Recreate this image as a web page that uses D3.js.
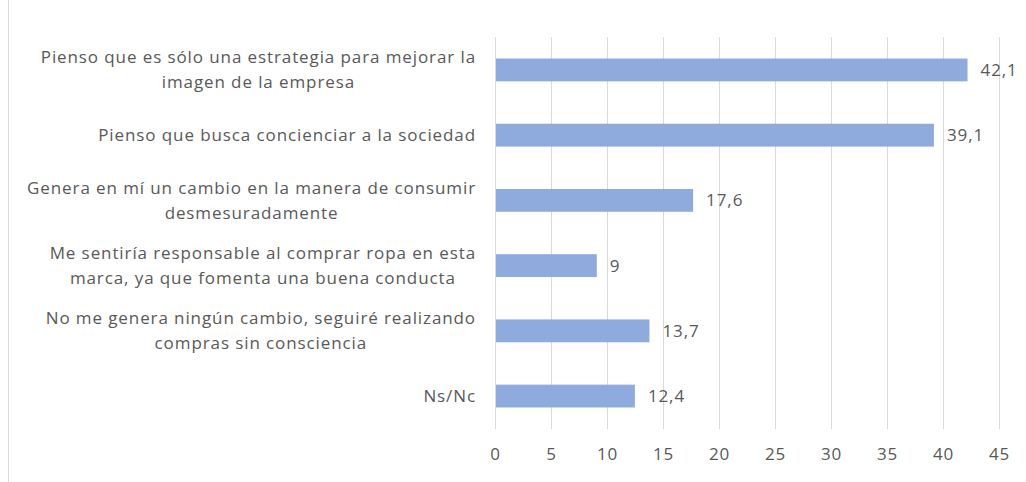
<!DOCTYPE html>
<html>
<head>
<meta charset="utf-8">
<script src="https://cdn.jsdelivr.net/npm/d3@7"></script>
<style>
  body { margin: 0; background: #fff; }
  svg { display: block; font-family: "Open Sans", sans-serif; }
</style>
</head>
<body>
<div id="wrapper"></div>
<script>
// categories, each one split in the lines the chart shows
const categories = [
    ["Pienso que es sólo una estrategia para mejorar la", "imagen de la empresa"],
    ["Pienso que busca concienciar a la sociedad"],
    ["Genera en mí un cambio en la manera de consumir", "desmesuradamente"],
    ["Me sentiría responsable al comprar ropa en esta", "marca, ya que fomenta una buena conducta"],
    ["No me genera ningún cambio, seguiré realizando", "compras sin consciencia"],
    ["Ns/Nc"]
];
const values = [42.1, 39.1, 17.6, 9, 13.7, 12.4];
const ticks = [0, 5, 10, 15, 20, 25, 30, 35, 40, 45];

function buildPlot() {
    const dimension = {
        width: 1026,
        height: 482,
        margin: { top: 37, left: 495, bottom: 53, right: 27 }
    };
    dimension.boundedWidth = dimension.width - dimension.margin.left - dimension.margin.right;
    dimension.boundedHeight = dimension.height - dimension.margin.top - dimension.margin.bottom;

    const textColor = "#595959";
    const fontSize = 17;
    const spacing = "0.9px";

    const svg = d3.select("#wrapper").append("svg")
        .attr("width", dimension.width)
        .attr("height", dimension.height);

    // chart border, only the left side is in the picture
    svg.append("line")
        .attr("x1", 8.5).attr("x2", 8.5)
        .attr("y1", 0).attr("y2", dimension.height)
        .attr("stroke", "#d9d9d9");

    const bounded = svg.append("g")
        .attr("transform", `translate(${dimension.margin.left},${dimension.margin.top})`);

    const scaleX = d3.scaleLinear()
        .domain([0, 45])
        .range([0, dimension.boundedWidth]);

    const scaleY = d3.scaleBand()
        .domain(d3.range(categories.length))
        .range([0, dimension.boundedHeight])
        .paddingInner(0.65)
        .paddingOuter(0.33);

    // gridlines
    bounded.append("g")
        .selectAll("line")
        .data(ticks)
        .join("line")
        .attr("x1", d => Math.round(scaleX(d)) + 0.5)
        .attr("x2", d => Math.round(scaleX(d)) + 0.5)
        .attr("y1", 0)
        .attr("y2", dimension.boundedHeight)
        .attr("stroke", "#d9d9d9");

    // x axis labels
    const xAxis = bounded.append("g")
        .attr("transform", `translate(0,${dimension.boundedHeight})`)
        .call(d3.axisBottom(scaleX).tickValues(ticks).tickSize(0).tickPadding(19));
    xAxis.select(".domain").remove();
    xAxis.selectAll("text")
        .attr("fill", textColor)
        .attr("font-size", fontSize)
        .attr("letter-spacing", spacing)
        .attr("font-family", "'Open Sans', sans-serif");

    // bars
    bounded.append("g")
        .selectAll("rect")
        .data(values)
        .join("rect")
        .attr("x", scaleX(0) + 1)
        .attr("y", (d, i) => scaleY(i))
        .attr("width", d => scaleX(d) - scaleX(0))
        .attr("height", scaleY.bandwidth())
        .attr("fill", "#8faadc");

    // value labels
    bounded.append("g")
        .selectAll("text")
        .data(values)
        .join("text")
        .attr("x", d => scaleX(d) + 14)
        .attr("y", (d, i) => scaleY(i) + scaleY.bandwidth() / 2)
        .attr("dy", "0.35em")
        .attr("fill", textColor)
        .attr("font-size", fontSize)
        .attr("letter-spacing", spacing)
        .text(d => String(d).replace(".", ","));

    // category labels: lines centred on each other, block right aligned
    const lineHeight = 25;
    const labelRight = -19;
    const labels = bounded.append("g")
        .selectAll("text")
        .data(categories)
        .join("text")
        .attr("fill", textColor)
        .attr("font-size", fontSize)
        .attr("letter-spacing", spacing)
        .attr("text-anchor", "middle");

    labels.each(function(lines, i) {
        const t = d3.select(this);
        const cy = scaleY(i) + scaleY.bandwidth() / 2;
        const y0 = cy - (lines.length - 1) * lineHeight / 2;
        const spans = t.selectAll("tspan")
            .data(lines)
            .join("tspan")
            .attr("y", (d, j) => y0 + j * lineHeight)
            .attr("dy", "0.35em")
            .text(d => d);
        let maxW = 0;
        spans.each(function() { maxW = Math.max(maxW, this.getComputedTextLength()); });
        spans.attr("x", labelRight - maxW / 2);
    });
}

buildPlot();
</script>
</body>
</html>
